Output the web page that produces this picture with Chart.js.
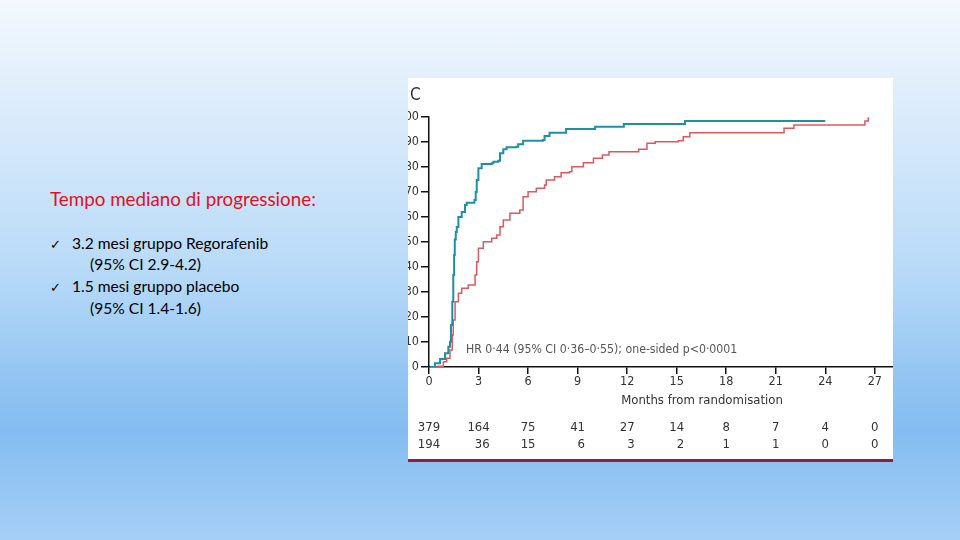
<!DOCTYPE html>
<html>
<head>
<meta charset="utf-8">
<script src="https://cdn.jsdelivr.net/npm/chart.js@4.4.1/dist/chart.umd.min.js"></script>
<style>
  html, body { margin:0; padding:0; }
  body {
    width:960px; height:540px; overflow:hidden; position:relative;
    background: linear-gradient(to bottom, #f3f9fe 0%, #dcecfb 20%, #b8daf8 50%, #8fc3f2 72%, #84bdf1 80%, #a6cff6 100%);
    font-family: Lato, "Open Sans", sans-serif;
  }
  .t { position:absolute; white-space:nowrap; line-height:20px; }
  #box { position:absolute; left:408px; top:78px; width:485px; height:384px; background:#fff; overflow:hidden; }
  #bar { position:absolute; left:408px; top:459px; width:485px; height:3px; background:#8d1d47; }
  .ck { font-family:'DejaVu Sans'; font-size:13px; display:inline-block; width:22px; }
</style>
</head>
<body>
<div class="t" style="left:50px; top:189px; font-size:18.8px; color:#e2101c;">Tempo mediano di progressione:</div>
<div class="t" style="left:50px; top:233px; font-size:15.6px; color:#000;"><span class="ck">✓</span>3.2 mesi gruppo Regorafenib</div>
<div class="t" style="left:90px; top:254px; font-size:15.6px; color:#000;">(95% CI 2.9-4.2)</div>
<div class="t" style="left:50px; top:276px; font-size:15.6px; color:#000;"><span class="ck">✓</span>1.5 mesi gruppo placebo</div>
<div class="t" style="left:90px; top:298px; font-size:15.6px; color:#000;">(95% CI 1.4-1.6)</div>

<div id="box"><canvas id="c" width="485" height="384"></canvas></div>
<div id="bar"></div>

<script>
// ---- data ----
const tickMonths = [0, 3, 6, 9, 12, 15, 18, 21, 24, 27];

const placeboMonths = [0.06,0.36,0.67,0.97,1.17,1.27,1.33,1.41,1.47,1.52,1.56,1.62,1.68,1.78,1.98,2.18,2.28,2.75,2.83,2.89,2.99,3.19,3.8,3.9,4.2,4.3,4.5,4.7,5.3,5.4,5.7,6.9,7.0,7.3,8.3,10.06,11.8,15.5,24.0];
const placeboPct    = [0,1.5,3.2,5.5,8.1,10.1,16.8,26.1,36.8,44.8,51,54,56,60,62,64.8,65.7,66.8,70,74.8,79.5,81.2,81.5,82.1,82.5,85.5,87.1,87.9,88.1,89.1,90.5,90.8,92.4,93.7,95.2,96.1,97.2,98.4,98.4];

const regoMonths = [0.1,0.56,0.87,1.07,1.27,1.41,1.47,1.58,1.78,1.98,2.38,2.79,2.89,2.99,3.29,3.8,4.1,4.3,4.5,4.9,5.5,5.7,6.0,6.5,7.0,7.1,7.6,8.0,8.5,8.65,9.35,9.96,10.5,10.9,12.2,12.7,13.2,13.7,15.1,15.4,15.8,21.4,21.5,22.1,26.3,26.4,26.6];
const regoPct    = [0,0.3,2.1,3.5,6.8,12.8,18.8,26.1,29.5,31.5,32.8,36.8,42.1,47.5,50.1,51.5,52.8,56.1,58.8,61.5,62.8,68.1,70.1,71.5,72.8,74.8,76.1,77.7,78.1,80.1,81.7,83.5,84.8,86.1,86.1,87.1,89.5,90.1,90.5,92.1,93.7,93.7,95.5,96.8,96.8,98.4,99.9];

const atRiskRego    = [379, 164, 75, 41, 27, 14, 8, 7, 4, 0];
const atRiskPlacebo = [194, 36, 15, 6, 3, 2, 1, 1, 0, 0];

const panelLabel = 'C';
const xTitle = 'Months from randomisation';
const hrText = 'HR 0·44 (95% CI 0·36–0·55); one-sided p<0·0001';

const toXY = (xs, ys) => xs.map((x, i) => ({x, y: ys[i]}));
const narrow = "'Liberation Sans Narrow', 'DejaVu Sans Condensed', 'Liberation Sans', sans-serif";

const overlay = {
  id: 'overlay',
  afterDraw(chart) {
    const ctx = chart.ctx;
    const xs = chart.scales.x;
    ctx.save();
    // panel letter
    ctx.fillStyle = '#333';
    ctx.font = "17px " + narrow;
    ctx.textBaseline = 'middle';
    ctx.textAlign = 'left';
    ctx.fillText(panelLabel, 2, 18);
    // HR text
    ctx.fillStyle = '#555';
    ctx.font = "12.2px " + narrow;
    ctx.fillText(hrText, 58, 272);
    // axis title
    ctx.fillStyle = '#333';
    ctx.textAlign = 'center';
    ctx.font = "13px " + narrow;
    ctx.fillText(xTitle, 294, 323);
    // numbers at risk
    ctx.font = "13px " + narrow;
    tickMonths.forEach((m, i) => {
      const px = xs.getPixelForValue(m);
      const s1 = String(atRiskRego[i]);
      const w1 = ctx.measureText(s1).width;
      ctx.textAlign = 'center';
      ctx.fillText(s1, px, 350);
      ctx.textAlign = 'right';
      ctx.fillText(String(atRiskPlacebo[i]), px + w1 / 2, 367);
    });
    ctx.restore();
  }
};

new Chart(document.getElementById('c'), {
  type: 'line',
  data: {
    datasets: [
      { label: 'Placebo', data: toXY(placeboMonths, placeboPct), stepped: true,
        borderColor: '#1f90a4', borderWidth: 2, pointRadius: 0, fill: false },
      { label: 'Regorafenib', data: toXY(regoMonths, regoPct), stepped: true,
        borderColor: '#da5a60', borderWidth: 1.5, pointRadius: 0, fill: false }
    ]
  },
  options: {
    responsive: false,
    animation: false,
    layout: { padding: { top: 39, left: 0, right: 0, bottom: 0 } },
    plugins: { legend: { display: false }, tooltip: { enabled: false } },
    scales: {
      x: {
        type: 'linear', min: 0, max: 28.1,
        afterFit(s) { s.height = 95; },
        afterBuildTicks(s) { s.ticks = tickMonths.map(v => ({value: v})); },
        ticks: { stepSize: 3, includeBounds: false, maxRotation: 0, autoSkip: false, padding: 0,
                 color: '#333', font: { family: narrow, size: 12.5 } },
        grid: { drawOnChartArea: false, drawTicks: true, tickLength: 7, color: '#111', lineWidth: 1.5 },
        border: { display: true, color: '#111', width: 1.5 }
      },
      y: {
        min: 0, max: 100,
        afterFit(s) { s.width = 21; },
        ticks: { stepSize: 10, padding: 2, color: '#333', font: { family: narrow, size: 12.5 } },
        grid: { drawOnChartArea: false, drawTicks: true, tickLength: 8, color: '#111', lineWidth: 1.5 },
        border: { display: true, color: '#111', width: 1.5 }
      }
    }
  },
  plugins: [overlay]
});
</script>
</body>
</html>
